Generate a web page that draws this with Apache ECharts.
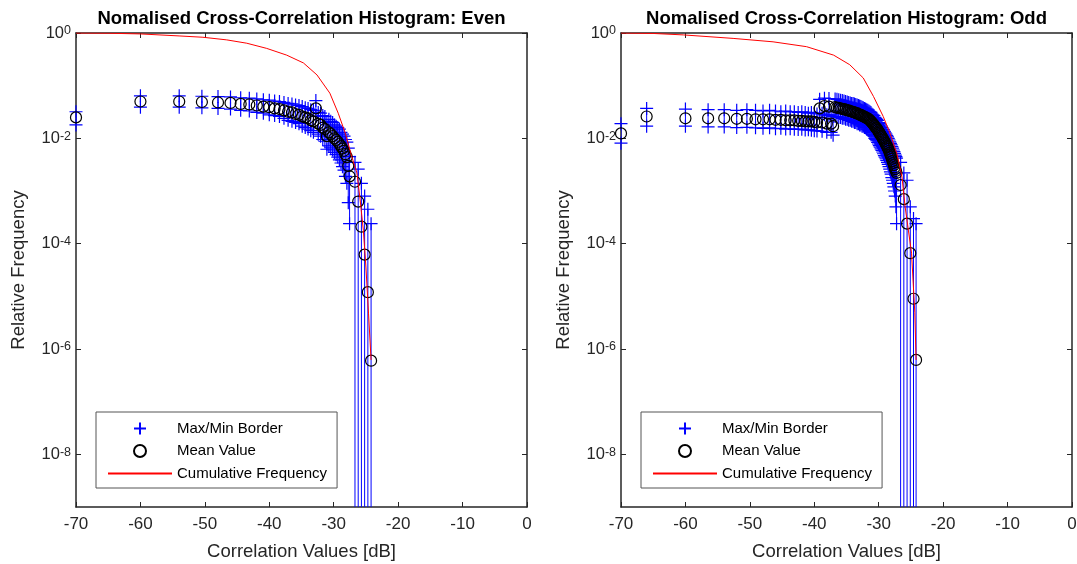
<!DOCTYPE html>
<html>
<head>
<meta charset="utf-8">
<script src="https://cdn.jsdelivr.net/npm/echarts@6/dist/echarts.min.js"></script>
<style>html,body{margin:0;padding:0;background:#fff}#c{width:1077px;height:564px}</style>
</head>
<body>
<div id="c"></div>
<script>
// ---------- data ----------
const titles = ['Nomalised Cross-Correlation Histogram: Even', 'Nomalised Cross-Correlation Histogram: Odd'];
const legendNames = ['Max/Min Border', 'Mean Value', 'Cumulative Frequency'];
const xTicks = [-70, -60, -50, -40, -30, -20, -10, 0];
const yTicks = [1e-8, 1e-6, 1e-4, 1e-2, 1];

// Even
const xEven = [-70, -60, -53.98, -50.46, -47.96, -46.02, -44.44, -43.10, -41.94, -40.92, -40.00, -39.17, -38.42, -37.72, -37.08, -36.48, -35.92, -35.39, -34.89, -34.42, -33.98, -33.56, -33.15, -32.77, -32.40, -32.04, -31.70, -31.37, -31.06, -30.75, -30.46, -30.17, -29.90, -29.63, -29.37, -29.12, -28.87, -28.64, -28.40, -28.18, -27.96, -27.74, -27.54, -26.7, -26.2, -25.7, -25.2, -24.7, -24.2];
const meanEven = [0.025, 0.050, 0.050, 0.049, 0.048, 0.047, 0.045, 0.044, 0.042, 0.040, 0.039, 0.037, 0.036, 0.034, 0.032, 0.031, 0.029, 0.028, 0.026, 0.025, 0.024, 0.022, 0.021, 0.037, 0.019, 0.018, 0.016, 0.015, 0.011, 0.013, 0.012, 0.011, 0.010, 0.0093, 0.0086, 0.0078, 0.0071, 0.0064, 0.0058, 0.0050, 0.0044, 0.0030, 0.0019, 0.0015, 6.3e-4, 2.1e-4, 6.2e-5, 1.2e-5, 6e-7];
const maxEven = [0.032, 0.064, 0.064, 0.063, 0.062, 0.061, 0.059, 0.058, 0.056, 0.054, 0.053, 0.051, 0.050, 0.048, 0.046, 0.045, 0.043, 0.042, 0.040, 0.038, 0.037, 0.035, 0.034, 0.052, 0.031, 0.030, 0.027, 0.026, 0.020, 0.023, 0.021, 0.020, 0.018, 0.017, 0.016, 0.015, 0.013, 0.012, 0.011, 0.0095, 0.0085, 0.0065, 0.0045, 0.0035, 0.0026, 0.0014, 8e-4, 4.5e-4, 2.4e-4];
const minEven = [0.018, 0.039, 0.039, 0.038, 0.037, 0.036, 0.034, 0.033, 0.031, 0.030, 0.028, 0.027, 0.026, 0.024, 0.022, 0.021, 0.020, 0.019, 0.017, 0.016, 0.015, 0.014, 0.013, 0.026, 0.012, 0.011, 0.0095, 0.0088, 0.0062, 0.0072, 0.0066, 0.0060, 0.0054, 0.0049, 0.0044, 0.0039, 0.0034, 0.0029, 0.0025, 0.0019, 0.0014, 6e-4, 2.4e-4, 0, 0, 0, 0, 0, 0];
const cumXEven = [-70, -65, -60, -54, -50.3, -46.6, -43.5, -40.4, -37.3, -34.7, -32.6, -30.6, -29.3, -28.2, -27.2, -26.4, -25.9, -25.4, -25.0, -24.6, -24.2];
const cumEven = [1.0, 0.99, 0.96, 0.88, 0.83, 0.74, 0.64, 0.51, 0.38, 0.27, 0.16, 0.072, 0.030, 0.0125, 0.0045, 0.0022, 6.8e-4, 1.8e-4, 3.6e-5, 4.8e-6, 6.2e-7];

// Odd
const xOdd = [-70, -66.02, -60.00, -56.48, -53.98, -52.04, -50.46, -49.12, -47.96, -46.94, -46.02, -45.19, -44.44, -43.74, -43.10, -42.50, -41.94, -41.41, -40.92, -40.45, -40.00, -39.58, -39.17, -38.79, -38.42, -38.06, -37.72, -37.39, -37.08, -36.77, -36.48, -36.20, -35.92, -35.65, -35.39, -35.14, -34.89, -34.66, -34.42, -34.20, -33.98, -33.77, -33.56, -33.35, -33.15, -32.96, -32.77, -32.58, -32.40, -32.22, -32.04, -31.87, -31.70, -31.53, -31.37, -31.21, -31.06, -30.90, -30.75, -30.60, -30.46, -30.31, -30.17, -30.03, -29.90, -29.77, -29.63, -29.50, -29.37, -29.25, -29.12, -29.00, -28.87, -28.75, -28.64, -28.52, -28.40, -28.29, -28.18, -28.07, -27.96, -27.85, -27.74, -27.64, -27.54, -27.43, -27.33, -27.23, -26.6, -26.1, -25.6, -25.1, -24.6, -24.2];
const meanOdd = [0.0124, 0.026, 0.024, 0.024, 0.024, 0.0235, 0.0235, 0.023, 0.023, 0.023, 0.0225, 0.0225, 0.022, 0.022, 0.022, 0.0215, 0.0215, 0.021, 0.021, 0.021, 0.0205, 0.020, 0.037, 0.020, 0.041, 0.019, 0.040, 0.019, 0.017, 0.039, 0.038, 0.038, 0.037, 0.036, 0.036, 0.035, 0.034, 0.034, 0.033, 0.032, 0.032, 0.031, 0.030, 0.030, 0.029, 0.028, 0.028, 0.027, 0.026, 0.026, 0.025, 0.024, 0.024, 0.023, 0.022, 0.021, 0.020, 0.019, 0.018, 0.017, 0.016, 0.0155, 0.0145, 0.0135, 0.0128, 0.012, 0.0113, 0.0106, 0.010, 0.0094, 0.0088, 0.0082, 0.0077, 0.0072, 0.0068, 0.0063, 0.0058, 0.0053, 0.0049, 0.0045, 0.0041, 0.0037, 0.0034, 0.0031, 0.0028, 0.0026, 0.0024, 0.0022, 0.0013, 7e-4, 2.4e-4, 6.6e-5, 9e-6, 6.2e-7];
const maxOdd = [0.019, 0.037, 0.036, 0.035, 0.035, 0.034, 0.035, 0.034, 0.033, 0.034, 0.033, 0.032, 0.033, 0.032, 0.032, 0.031, 0.032, 0.031, 0.030, 0.031, 0.030, 0.029, 0.055, 0.030, 0.058, 0.028, 0.057, 0.028, 0.026, 0.056, 0.055, 0.054, 0.053, 0.052, 0.051, 0.050, 0.049, 0.048, 0.047, 0.046, 0.046, 0.045, 0.044, 0.043, 0.042, 0.041, 0.040, 0.039, 0.038, 0.037, 0.036, 0.035, 0.034, 0.033, 0.032, 0.031, 0.029, 0.028, 0.027, 0.025, 0.024, 0.023, 0.022, 0.020, 0.019, 0.018, 0.017, 0.016, 0.015, 0.0145, 0.0135, 0.0127, 0.012, 0.0113, 0.0107, 0.010, 0.0093, 0.0086, 0.008, 0.0075, 0.007, 0.0065, 0.006, 0.0056, 0.0052, 0.0048, 0.0045, 0.0042, 0.0035, 0.0022, 0.0016, 5e-4, 3e-4, 2.4e-4];
const minOdd = [0.0081, 0.017, 0.017, 0.0165, 0.0165, 0.016, 0.0162, 0.0158, 0.0155, 0.0158, 0.0152, 0.0155, 0.015, 0.0152, 0.0148, 0.0147, 0.0149, 0.0144, 0.0145, 0.0143, 0.014, 0.0138, 0.025, 0.0136, 0.028, 0.013, 0.027, 0.013, 0.0115, 0.026, 0.026, 0.025, 0.025, 0.024, 0.024, 0.023, 0.023, 0.022, 0.022, 0.021, 0.021, 0.020, 0.020, 0.019, 0.019, 0.018, 0.018, 0.017, 0.017, 0.016, 0.016, 0.015, 0.015, 0.014, 0.0135, 0.013, 0.012, 0.0115, 0.011, 0.010, 0.0095, 0.009, 0.0084, 0.0078, 0.0073, 0.0068, 0.0063, 0.0059, 0.0055, 0.0051, 0.0047, 0.0044, 0.0041, 0.0038, 0.0035, 0.0032, 0.0029, 0.0026, 0.0023, 0.0021, 0.0018, 0.0016, 0.0014, 0.0012, 0.001, 0.0008, 0.0005, 0.00024, 0, 0, 0, 0, 0, 0];
const cumXOdd = [-70, -65, -60.3, -52.6, -46.4, -41.2, -37.0, -34.5, -32.4, -30.8, -29.3, -28.25, -27.2, -26.4, -25.9, -24.9, -24.4, -24.2];
const cumOdd = [1.0, 0.98, 0.92, 0.79, 0.68, 0.55, 0.38, 0.25, 0.14, 0.062, 0.026, 0.0125, 0.0052, 0.0019, 5e-4, 6.6e-5, 5e-6, 6.2e-7];

// ---------- chart ----------
const FONT = '"Liberation Sans", Arial, Helvetica, sans-serif';
const AX = '#262626';
const BLUE = '#0000ff';
const PLUS = 'path://M0,5L10,5M5,0L5,10';
const grids = [
  { left: 76, top: 33, width: 451, height: 474, outerBoundsMode: 'none', containLabel: false },
  { left: 621, top: 33, width: 451, height: 474, outerBoundsMode: 'none', containLabel: false }
];
const panels = [
  { x: xEven, mean: meanEven, max: maxEven, min: minEven, cx: cumXEven, cy: cumEven },
  { x: xOdd, mean: meanOdd, max: maxOdd, min: minOdd, cx: cumXOdd, cy: cumOdd }
];

function xAx(g, top) {
  return {
    type: 'value', gridIndex: g, position: top ? 'top' : 'bottom',
    min: -70, max: 0, interval: 10,
    axisLine: { show: true, onZero: false, lineStyle: { color: AX, width: 1.5 } },
    axisTick: { show: true, inside: true, length: 5, lineStyle: { color: AX, width: 1 } },
    axisLabel: { show: !top, margin: 9, color: AX, fontSize: 17, fontFamily: FONT },
    splitLine: { show: false },
    name: top ? '' : 'Correlation Values [dB]',
    nameLocation: 'middle', nameGap: 35,
    nameTextStyle: { color: AX, fontSize: 18.5, fontFamily: FONT }
  };
}
function yAx(g, right) {
  return {
    type: 'log', logBase: 10, gridIndex: g, position: right ? 'right' : 'left',
    min: 1e-9, max: 1,
    axisLine: { show: true, onZero: false, lineStyle: { color: AX, width: 1.5 } },
    axisTick: { show: true, inside: true, length: 5, customValues: yTicks, lineStyle: { color: AX, width: 1 } },
    axisLabel: {
      show: !right, margin: 5, customValues: yTicks, color: AX, fontFamily: FONT,
      formatter: function (v) { const e = Math.round(Math.log10(v)); return '{b|10}{s|' + e + '}'; },
      rich: {
        b: { fontSize: 16.5, color: AX, fontFamily: FONT, verticalAlign: 'bottom', lineHeight: 17 },
        s: { fontSize: 12.5, color: AX, fontFamily: FONT, verticalAlign: 'top', lineHeight: 13, padding: [0, 0, 9, 0] }
      }
    },
    splitLine: { show: false },
    name: right ? '' : 'Relative Frequency',
    nameLocation: 'middle', nameGap: 48, nameRotate: 90,
    nameTextStyle: { color: AX, fontSize: 18.5, fontFamily: FONT }
  };
}

const series = [];
panels.forEach(function (p, g) {
  const xi = g * 2, yi = g * 2;
  const bars = p.x.map(function (x, i) { return [x, p.max[i], p.min[i]]; });
  series.push({
    type: 'custom', name: 'errbar' + g, xAxisIndex: xi, yAxisIndex: yi, silent: true,
    encode: { x: 0, y: 1 }, data: bars, z: 2, clip: true,
    renderItem: function (params, api) {
      const x = api.value(0), hi = api.value(1), lo = api.value(2);
      const p1 = api.coord([x, hi]);
      let y2;
      if (lo > 0) { y2 = api.coord([x, lo])[1]; }
      else { y2 = params.coordSys.y + params.coordSys.height; }
      return { type: 'line', shape: { x1: p1[0], y1: p1[1], x2: p1[0], y2: y2 }, style: { stroke: BLUE, lineWidth: 1 } };
    }
  });
  const plusData = [];
  p.x.forEach(function (x, i) {
    plusData.push([x, p.max[i]]);
    if (p.min[i] > 0) plusData.push([x, p.min[i]]);
  });
  series.push({
    type: 'scatter', name: legendNames[0], xAxisIndex: xi, yAxisIndex: yi,
    symbol: PLUS, symbolSize: 13, data: plusData, z: 3,
    itemStyle: { color: 'rgba(0,0,0,0)', borderColor: BLUE, borderWidth: 1.2, opacity: 1 },
    emphasis: { disabled: true }
  });
  series.push({
    type: 'scatter', name: legendNames[1], xAxisIndex: xi, yAxisIndex: yi,
    symbol: 'circle', symbolSize: 11, z: 4,
    data: p.x.map(function (x, i) { return [x, p.mean[i]]; }),
    itemStyle: { color: 'rgba(0,0,0,0)', borderColor: '#000', borderWidth: 1.2, opacity: 1 },
    emphasis: { disabled: true }
  });
  series.push({
    type: 'line', name: legendNames[2], xAxisIndex: xi, yAxisIndex: yi,
    symbol: 'none', z: 5,
    data: p.cx.map(function (x, i) { return [x, p.cy[i]]; }),
    lineStyle: { color: '#ff0000', width: 1 },
    itemStyle: { color: '#ff0000' },
    emphasis: { disabled: true }
  });
});

function legendAt(left) {
  return {
    left: left, top: 412, orient: 'vertical',
    data: [
      { name: legendNames[0] },
      { name: legendNames[1] },
      { name: legendNames[2], itemStyle: { opacity: 0 } }
    ],
    padding: [9, 10, 7, 11], itemWidth: 64, itemHeight: 12, itemGap: 7.5,
    borderColor: '#555', borderWidth: 1, backgroundColor: '#fff',
    selectedMode: false,
    textStyle: { color: '#000', fontSize: 15, fontFamily: FONT }
  };
}

const option = {
  animation: false,
  backgroundColor: '#fff',
  title: titles.map(function (t, g) {
    return {
      text: t, left: grids[g].left + grids[g].width / 2, top: 9, textAlign: 'center', padding: 0,
      textStyle: { color: '#000', fontSize: 18.5, fontWeight: 'bold', fontFamily: FONT }
    };
  }),
  grid: grids,
  xAxis: [xAx(0, false), xAx(0, true), xAx(1, false), xAx(1, true)],
  yAxis: [yAx(0, false), yAx(0, true), yAx(1, false), yAx(1, true)],
  legend: [legendAt(96), legendAt(641)],
  series: series
};

const chart = echarts.init(document.getElementById('c'), null, { renderer: 'canvas' });
chart.setOption(option);
</script>
</body>
</html>
